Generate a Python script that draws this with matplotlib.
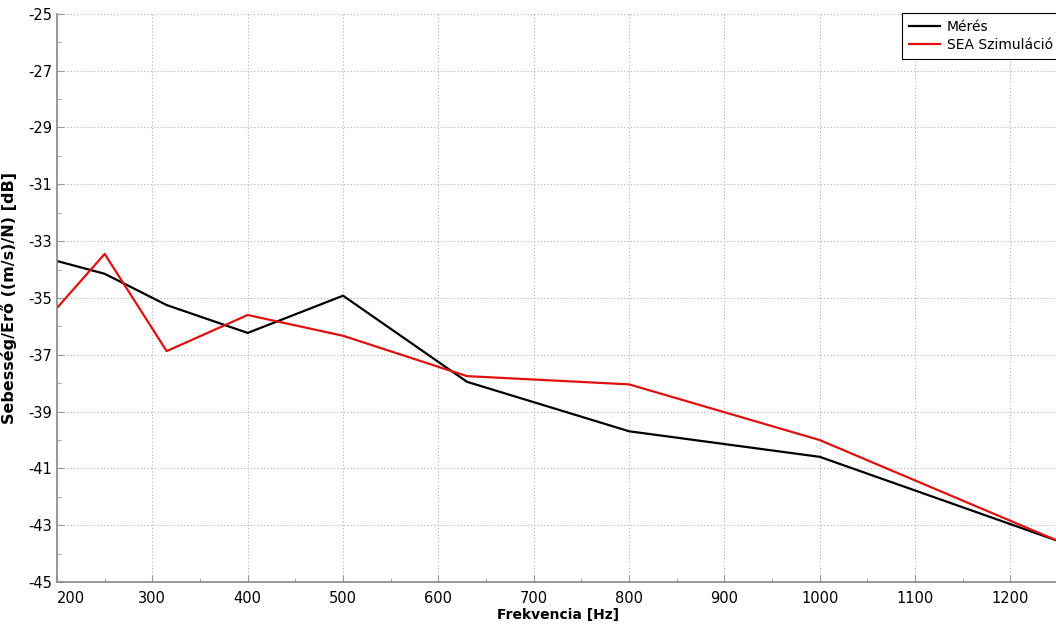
import matplotlib.pyplot as plt
from matplotlib.ticker import MultipleLocator

plt.rcParams['axes.unicode_minus'] = False

freq = [200, 250, 315, 400, 500, 630, 800, 1000, 1250]
meres = [-33.70, -34.15, -35.25, -36.23, -34.92, -37.95, -39.69, -40.59, -43.55]
sea = [-35.35, -33.45, -36.87, -35.60, -36.33, -37.75, -38.04, -40.00, -43.55]

fig = plt.figure(figsize=(10.56, 6.24), dpi=100)
ax = fig.add_axes([0.054, 0.067, 0.948, 0.911])

ax.plot(freq, meres, color='black', lw=1.6, label='Mérés')
ax.plot(freq, sea, color='#e01010', lw=1.6, label='SEA Szimuláció')

ax.set_xlim(200, 1250)
ax.set_ylim(-45, -25)
ax.xaxis.set_major_locator(MultipleLocator(100))
ax.xaxis.set_minor_locator(MultipleLocator(50))
ax.set_yticks(range(-45, -24, 2))
ax.yaxis.set_minor_locator(MultipleLocator(1))
ax.tick_params(which='both', direction='in', color='#999999', labelsize=10.5)
ax.tick_params(which='major', length=5)
ax.tick_params(which='minor', length=3)
ax.tick_params(axis='x', pad=6)
ax.grid(True, which='major', linestyle=(0, (1, 2)), color='#b0b0b0', lw=0.8)

for s in ['top', 'right']:
    ax.spines[s].set_visible(False)
for s in ['left', 'bottom']:
    ax.spines[s].set_color('#888888')
    ax.spines[s].set_linewidth(1.2)

ax.set_xlabel('Frekvencia [Hz]', fontweight='bold', fontsize=10, labelpad=2)
ax.set_ylabel('Sebesség/Erő ((m/s)/N) [dB]', fontweight='bold', fontsize=11.5, labelpad=8)

leg = ax.legend(loc='upper right', bbox_to_anchor=(1.006, 1.008), fontsize=10,
                fancybox=False, framealpha=1, edgecolor='black',
                handlelength=2.2, borderpad=0.5, borderaxespad=0.3,
                labelspacing=0.25, handletextpad=0.5)
leg.get_frame().set_linewidth(0.8)

fig.canvas.draw()
for t in ax.get_xticklabels():
    if t.get_text() == '200':
        t.set_horizontalalignment('left')

fig.savefig('out.png', dpi=100)
